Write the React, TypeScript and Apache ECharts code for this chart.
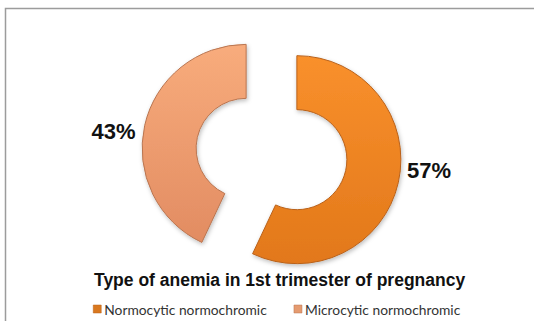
import React, { useEffect, useRef } from "react";
import * as echarts from "echarts";

const categories = ["Normocytic normochromic", "Microcytic normochromic"];
const values = [57, 43];
const titleText = "Type of anemia in 1st trimester of pregnancy";

export default function App() {
  const ref = useRef<HTMLDivElement>(null);
  useEffect(() => {
    if (!ref.current) return;
    const chart = echarts.init(ref.current, undefined, { renderer: "svg" });
    const fills = [
      new echarts.graphic.LinearGradient(0, 0, 0, 1, [
        { offset: 0, color: "#F9902C" },
        { offset: 1, color: "#E2781A" },
      ]),
      new echarts.graphic.LinearGradient(0, 0, 0, 1, [
        { offset: 0, color: "#F8AC7C" },
        { offset: 1, color: "#E28C62" },
      ]),
    ];
    const borders = ["#B9611A", "#B97550"];
    const legendColors = ["#D9781F", "#E59B70"];
    const total = values.reduce((a, b) => a + b, 0);
    const labelPos = [
      [429, 170],
      [113.5, 131],
    ];
    chart.setOption({
      animation: false,
      backgroundColor: "#ffffff",
      title: {
        text: titleText,
        left: 89,
        top: 266,
        textStyle: {
          fontFamily: "Liberation Sans, Arial, sans-serif",
          fontWeight: "bold",
          fontSize: 17.5,
          color: "#111111",
        },
      },
      legend: {
        left: 88,
        top: 297,
        icon: "rect",
        itemWidth: 8,
        itemHeight: 8,
        itemGap: 27,
        textStyle: {
          fontFamily: "Lato, 'Open Sans', sans-serif",
          fontSize: 13.8,
          color: "#333333",
          padding: [0, 0, 0, -2],
        },
        data: categories.map((c, i) => ({
          name: c,
          itemStyle: { color: legendColors[i], borderColor: borders[i], borderWidth: 0.5 },
        })),
      },
      graphic: [
        {
          type: "rect",
          shape: { x: 5.5, y: 8.5, width: 700, height: 500 },
          style: { fill: "none", stroke: "#9c9c9c", lineWidth: 1.5 },
          silent: true,
        },
        ...values.map((v, i) => ({
          type: "text",
          x: labelPos[i][0],
          y: labelPos[i][1],
          silent: true,
          style: {
            text: `${Math.round((v / total) * 100)}%`,
            fontFamily: "Liberation Sans, Arial, sans-serif",
            fontWeight: "bold",
            fontSize: 22,
            fill: "#111111",
            align: "center",
            verticalAlign: "middle",
          },
        })),
      ],
      series: [
        {
          type: "pie",
          center: [271.5, 154],
          radius: [50, 104],
          startAngle: 90,
          clockwise: true,
          selectedMode: "multiple",
          selectedOffset: 26,
          avoidLabelOverlap: false,
          emphasis: { disabled: true },
          label: { show: false },
          labelLine: { show: false },
          data: categories.map((c, i) => ({
            name: c,
            value: values[i],
            selected: true,
            itemStyle: {
              color: fills[i],
              borderColor: borders[i],
              borderWidth: 1,
              shadowColor: "rgba(0,0,0,0.25)",
              shadowBlur: 4,
              shadowOffsetX: 1,
              shadowOffsetY: 2,
            },
          })),
        },
      ],
    });
    return () => chart.dispose();
  }, []);
  return (
    <div
      ref={ref}
      style={{ position: "absolute", left: 0, top: 0, width: 534, height: 321 }}
    />
  );
}
